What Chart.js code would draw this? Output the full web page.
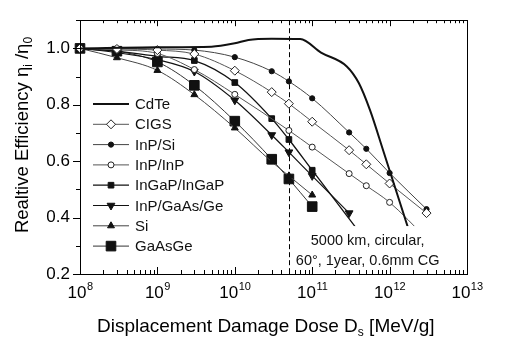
<!DOCTYPE html>
<html>
<head>
<meta charset="utf-8">
<script src="https://cdn.jsdelivr.net/npm/chart.js@4.4.0/dist/chart.umd.min.js"></script>
<style>
  html, body { margin: 0; padding: 0; background: #fff; }
  #wrap { width: 523px; height: 354px; }
</style>
</head>
<body>
<div id="wrap"><canvas id="chart" width="523" height="354"></canvas></div>
<script>
// Relative efficiency vs displacement damage dose
const cdteDose = [1e8, 1e9, 5e9, 1e10, 1.5e10, 3e10, 7e10, 1.3e11, 2.8e11, 4e11, 5.6e11, 8.3e11, 2e12];
const cdteEff  = [1.0, 1.004, 1.006, 1.018, 1.03, 1.034, 1.033, 0.985, 0.936, 0.877, 0.78, 0.636, 0.31];

const cigsDose = [1e8, 3e8, 1e9, 3e9, 1e10, 3e10, 5e10, 1e11, 3e11, 5e11, 1e12, 3e12];
const cigsEff  = [1.0, 0.998, 0.994, 0.98, 0.921, 0.845, 0.804, 0.74, 0.639, 0.589, 0.521, 0.416];

const inpSiDose = [1e8, 3e8, 1e9, 3e9, 1e10, 3e10, 5e10, 1e11, 3e11, 5e11, 1e12, 3e12];
const inpSiEff  = [1.0, 1.0, 0.998, 0.994, 0.969, 0.919, 0.883, 0.823, 0.702, 0.644, 0.558, 0.43];

const inpInpDose = [1e8, 3e8, 1e9, 3e9, 1e10, 5e10, 1e11, 3e11, 5e11, 1e12, 3e12];
const inpInpEff  = [1.0, 0.995, 0.982, 0.925, 0.837, 0.709, 0.65, 0.556, 0.513, 0.454, 0.326];

const ingapDose = [1e8, 3e8, 1e9, 3e9, 1e10, 3e10, 5e10, 1e11, 5e11];
const ingapEff  = [1.0, 0.99, 0.972, 0.957, 0.879, 0.751, 0.677, 0.568, 0.316];

const inpGaAsDose = [1e8, 3e8, 1e9, 3e9, 1e10, 3e10, 5e10, 1e11, 3e11];
const inpGaAsEff  = [1.0, 0.985, 0.96, 0.918, 0.816, 0.693, 0.632, 0.548, 0.416];

const siDose = [1e8, 3e8, 1e9, 3e9, 1e10, 3e10, 5e10, 1e11];
const siEff  = [1.0, 0.967, 0.922, 0.836, 0.718, 0.598, 0.548, 0.48];

const gaasGeDose = [1e8, 3e8, 1e9, 3e9, 1e10, 3e10, 5e10, 1e11];
const gaasGeEff  = [1.0, 0.99, 0.952, 0.869, 0.742, 0.607, 0.537, 0.439];

const missionDose = 5e10;               // dashed reference line
const xDecades = [8, 9, 10, 11, 12, 13];
const yTicks = [0.2, 0.4, 0.6, 0.8, 1.0];
const noteLines = ['5000 km, circular,', '60\u00b0, 1year, 0.6mm CG'];

const FONT = '"Liberation Sans", Arial, Helvetica, sans-serif';

function pts(xs, ys) { return xs.map((x, i) => ({ x: x, y: ys[i] })); }

function series(label, xs, ys, st) {
  return Object.assign({
    label: label,
    data: pts(xs, ys),
    borderWidth: 1,
    pointBorderWidth: 1,
    cubicInterpolationMode: 'monotone',
    clip: false
  }, st);
}

const datasets = [
  series('CdTe', cdteDose, cdteEff, { borderColor: '#111', borderWidth: 2, pointRadius: 0 }),
  series('CIGS', cigsDose, cigsEff, { borderColor: '#555', pointStyle: 'rectRot', pointRadius: 4.5,
    pointBackgroundColor: '#fff', pointBorderColor: '#222', backgroundColor: '#fff' }),
  series('InP/Si', inpSiDose, inpSiEff, { borderColor: '#444', pointStyle: 'circle', pointRadius: 2.6,
    pointBackgroundColor: '#111', pointBorderColor: '#111', backgroundColor: '#111' }),
  series('InP/InP', inpInpDose, inpInpEff, { borderColor: '#555', pointStyle: 'circle', pointRadius: 3,
    pointBackgroundColor: '#fff', pointBorderColor: '#222', backgroundColor: '#fff' }),
  series('InGaP/InGaP', ingapDose, ingapEff, { borderColor: '#111', borderWidth: 1.3, pointStyle: 'rect', pointRadius: 4,
    pointBackgroundColor: '#111', pointBorderColor: '#111', backgroundColor: '#111' }),
  series('InP/GaAs/Ge', inpGaAsDose, inpGaAsEff, { borderColor: '#111', borderWidth: 1.2, pointStyle: 'triangle', pointRotation: 180,
    pointRadius: 4.5, pointBackgroundColor: '#111', pointBorderColor: '#111', backgroundColor: '#111' }),
  series('Si', siDose, siEff, { borderColor: '#444', pointStyle: 'triangle', pointRadius: 4,
    pointBackgroundColor: '#111', pointBorderColor: '#111', backgroundColor: '#111' }),
  series('GaAsGe', gaasGeDose, gaasGeEff, { borderColor: '#333', pointStyle: 'rect', pointRadius: 6.8,
    pointBackgroundColor: '#111', pointBorderColor: '#111', backgroundColor: '#111' })
];

// frame, ticks, dashed line, note box, legend, axis titles
const decorPlugin = {
  id: 'decor',
  beforeDatasetsDraw(chart) {
    const { ctx, chartArea: a, scales: { x } } = chart;
    ctx.save();
    ctx.strokeStyle = '#000';
    ctx.lineWidth = 1;
    ctx.setLineDash([5, 3]);
    const dx = Math.round(x.getPixelForValue(missionDose)) + 0.5;
    ctx.beginPath(); ctx.moveTo(dx, a.top); ctx.lineTo(dx, a.bottom); ctx.stroke();
    ctx.restore();
  },
  afterDatasetsDraw(chart) {
    const { ctx, chartArea: a, scales: { x, y } } = chart;
    ctx.save();

    // white note box hiding line ends
    const bx = x.getPixelForValue(6.3e10), bx2 = x.getPixelForValue(6e12);
    const by = y.getPixelForValue(0.37), by2 = y.getPixelForValue(0.21);
    ctx.fillStyle = '#fff';
    ctx.fillRect(bx, by, bx2 - bx, by2 - by);
    ctx.fillStyle = '#111';
    ctx.font = '14.5px ' + FONT;
    ctx.textAlign = 'center';
    ctx.textBaseline = 'middle';
    const cx = x.getPixelForValue(5.2e11);
    noteLines.forEach((t, i) => ctx.fillText(t, cx, by + 15 + i * 20));

    // frame
    ctx.strokeStyle = '#000';
    ctx.lineWidth = 1;
    ctx.strokeRect(Math.round(a.left) + 0.5, Math.round(a.top) + 0.5,
      Math.round(a.right - a.left), Math.round(a.bottom - a.top));

    // x ticks, bottom (inward) and top (inward)
    ctx.beginPath();
    xDecades.forEach(d => {
      for (let m = 1; m <= 9; m++) {
        if (d === 13 && m > 1) break;
        const px = Math.round(x.getPixelForValue(m * Math.pow(10, d))) + 0.5;
        const major = m === 1;
        ctx.moveTo(px, a.bottom); ctx.lineTo(px, a.bottom - (major ? 7 : 4));
        ctx.moveTo(px, a.top); ctx.lineTo(px, a.top + (major ? 6 : 3));
      }
    });
    // y ticks (outward)
    for (let k = 2; k <= 11; k++) {
      const py = Math.round(y.getPixelForValue(k / 10)) + 0.5;
      const major = k % 2 === 0;
      ctx.moveTo(a.left, py); ctx.lineTo(a.left - (major ? 7 : 4), py);
    }
    ctx.stroke();

    // x tick labels 10^n
    ctx.fillStyle = '#000';
    ctx.textBaseline = 'alphabetic';
    ctx.textAlign = 'left';
    xDecades.forEach(d => {
      const px = x.getPixelForValue(Math.pow(10, d));
      ctx.font = '17px ' + FONT;
      const w1 = ctx.measureText('10').width;
      ctx.font = '11px ' + FONT;
      const w2 = ctx.measureText(String(d)).width;
      const x0 = px - (w1 + w2) / 2;
      ctx.font = '17px ' + FONT;
      ctx.fillText('10', x0, a.bottom + 24);
      ctx.font = '11px ' + FONT;
      ctx.fillText(String(d), x0 + w1 + 0.5, a.bottom + 16);
    });

    // x title with subscript
    const parts = [['Displacement Damage Dose D', 19, 0], ['s', 12, 4], [' [MeV/g]', 19, 0]];
    let tx = 97;
    parts.forEach(p => {
      ctx.font = p[1] + 'px ' + FONT;
      ctx.fillText(p[0], tx, 332 + p[2]);
      tx += ctx.measureText(p[0]).width;
    });

    // y title rotated
    const yparts = [['Realtive Efficiency \u03b7', 18.5, 0], ['i', 12, 4], [' /\u03b7', 18.5, 0], ['0', 12, 4]];
    let total = 0;
    yparts.forEach(p => { ctx.font = p[1] + 'px ' + FONT; total += ctx.measureText(p[0]).width; });
    ctx.save();
    ctx.translate(28, 135);
    ctx.rotate(-Math.PI / 2);
    let ty = -total / 2;
    yparts.forEach(p => {
      ctx.font = p[1] + 'px ' + FONT;
      ctx.fillText(p[0], ty, p[2]);
      ty += ctx.measureText(p[0]).width;
    });
    ctx.restore();

    // legend inside plot
    const lx = a.left + 13, lw = 36;
    chart.data.datasets.forEach((ds, i) => {
      const ly = 104 + i * 20.3;
      ctx.strokeStyle = ds.borderColor;
      ctx.lineWidth = ds.borderWidth;
      ctx.beginPath(); ctx.moveTo(lx, ly); ctx.lineTo(lx + lw, ly); ctx.stroke();
      if (ds.pointRadius > 0) {
        ctx.fillStyle = ds.pointBackgroundColor;
        ctx.strokeStyle = ds.pointBorderColor;
        ctx.lineWidth = 1;
        Chart.helpers.drawPoint(ctx, {
          pointStyle: ds.pointStyle, rotation: ds.pointRotation || 0,
          radius: ds.pointRadius, borderWidth: 1
        }, lx + lw / 2, ly);
      }
      ctx.fillStyle = '#111';
      ctx.font = '15px ' + FONT;
      ctx.textBaseline = 'middle';
      ctx.fillText(ds.label, lx + lw + 6, ly + 1);
      ctx.textBaseline = 'alphabetic';
    });
    ctx.restore();
  }
};

new Chart(document.getElementById('chart'), {
  type: 'line',
  data: { datasets: datasets },
  options: {
    responsive: false,
    animation: false,
    layout: { padding: { top: 17, right: 56, left: 0, bottom: 0 } },
    plugins: { legend: { display: false }, tooltip: { enabled: false } },
    scales: {
      x: {
        type: 'logarithmic', min: 1e8, max: 1e13,
        grid: { display: false, drawTicks: false },
        border: { display: false },
        ticks: { display: false },
        afterFit: s => { s.height = 80; }
      },
      y: {
        min: 0.2, max: 1.1,
        grid: { display: false, drawTicks: false },
        border: { display: false },
        afterFit: s => { s.width = 80; },
        afterBuildTicks: s => { s.ticks = yTicks.map(v => ({ value: v })); },
        ticks: {
          padding: 10, color: '#000',
          font: { size: 17, family: FONT },
          callback: v => Number(v).toFixed(1)
        }
      }
    }
  },
  plugins: [decorPlugin]
});
</script>
</body>
</html>
